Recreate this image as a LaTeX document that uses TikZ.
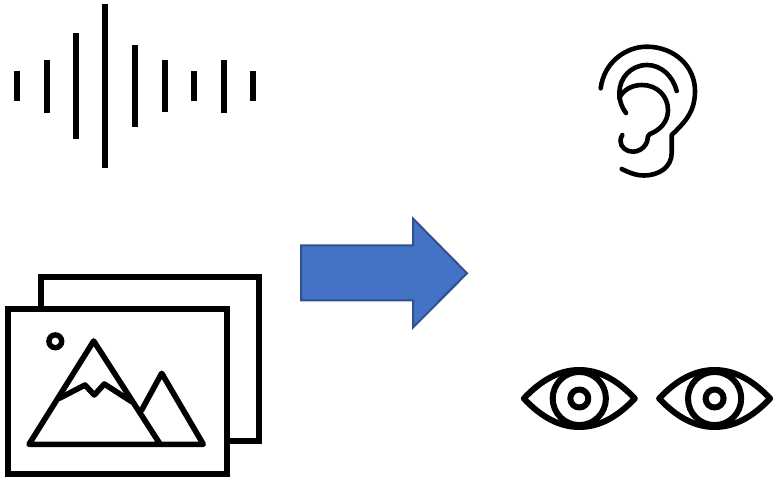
\documentclass[tikz,border=0pt]{standalone}
\definecolor{arrfill}{HTML}{4472C4}
\definecolor{arrline}{HTML}{2F528F}
\tikzset{
  bar/.style={line width=6pt,black},
  frame/.style={line width=6pt,black,miter limit=10},
  mount/.style={line width=5.6pt,black,line join=round,line cap=round},
  earline/.style={line width=4.6pt,black,line cap=round,line join=round},
  eyeline/.style={line width=6pt,black,line join=round},
  bigarrow/.style={fill=arrfill,draw=arrline,line width=2pt,miter limit=10}
}
\begin{document}
\begin{tikzpicture}[x=1pt,y=-1pt]
\useasboundingbox (0,0) rectangle (774,478);
% waveform
\draw[bar] (17,71)--(17,101);
\draw[bar] (47,60)--(47,113);
\draw[bar] (76,33)--(76,139);
\draw[bar] (105.4,4)--(105.4,168);
\draw[bar] (135,45)--(135,127);
\draw[bar] (164.5,60)--(164.5,112);
\draw[bar] (194,71)--(194,101);
\draw[bar] (224,60)--(224,113);
\draw[bar] (253,71)--(253,101);
% pictures
\draw[frame] (41,306)--(41,276.6)--(259,276.6)--(259,441)--(228,441);
\draw[frame] (8.2,308.8) rectangle (226.5,474.2);
\draw[line width=5.4pt] (55.3,341.3) circle (6.4);
\draw[mount] (160,444)--(93.7,341)--(29,444.3)--(203.3,444.3)--(161.7,373.3)--(141.7,410);
\draw[mount] (59.3,398.3)--(85,385)--(94.3,395)--(104.3,384)--(131.7,401.7);
% arrow
\draw[bigarrow] (301,245.5)--(413,245.5)--(413,218.5)--(467,273.3)--(413,327.5)--(413,300.5)--(301,300.5)--cycle;
% ear
\draw[earline] (600.7,88.3) .. controls (604,62) and (626,46.7) .. (646.7,46.7)
  .. controls (674,46.7) and (695,66) .. (695,91)
  .. controls (695,112) and (685,122) .. (671.7,135)
  -- (671.7,153) .. controls (671.7,167) and (659,175.5) .. (644,175.5)
  .. controls (635,175.5) and (628,172) .. (621.7,169);
\draw[earline] (676.7,91) .. controls (673,76) and (661,65) .. (647,65)
  .. controls (631,65) and (619.3,78) .. (619.3,93)
  .. controls (619.3,101) and (622,108) .. (626,113);
\draw[earline] (619.3,98) .. controls (623,90) and (632,85) .. (642,85)
  .. controls (657,85) and (668,96) .. (668,110)
  .. controls (668,122) and (660,130) .. (650,134)
  .. controls (646,137) and (649,139) .. (646,144)
  .. controls (643,149) and (638,151.7) .. (633,151.7)
  .. controls (626,151.7) and (620.5,147) .. (620.5,141)
  .. controls (620.5,139) and (621,137) .. (622.3,135);
% eyes
\foreach \ex in {579.3,714.6}{
  \draw[eyeline] (\ex-55.5,398.5) .. controls (\ex-38,380) and (\ex-20,370) .. (\ex,370)
    .. controls (\ex+20,370) and (\ex+38,380) .. (\ex+55.5,398.5)
    .. controls (\ex+38,417) and (\ex+20,427) .. (\ex,427)
    .. controls (\ex-20,427) and (\ex-38,417) .. (\ex-55.5,398.5) -- cycle;
  \draw[eyeline] (\ex,398.5) circle (26.6);
  \draw[eyeline] (\ex,398.5) circle (9);
}
\end{tikzpicture}
\end{document}
